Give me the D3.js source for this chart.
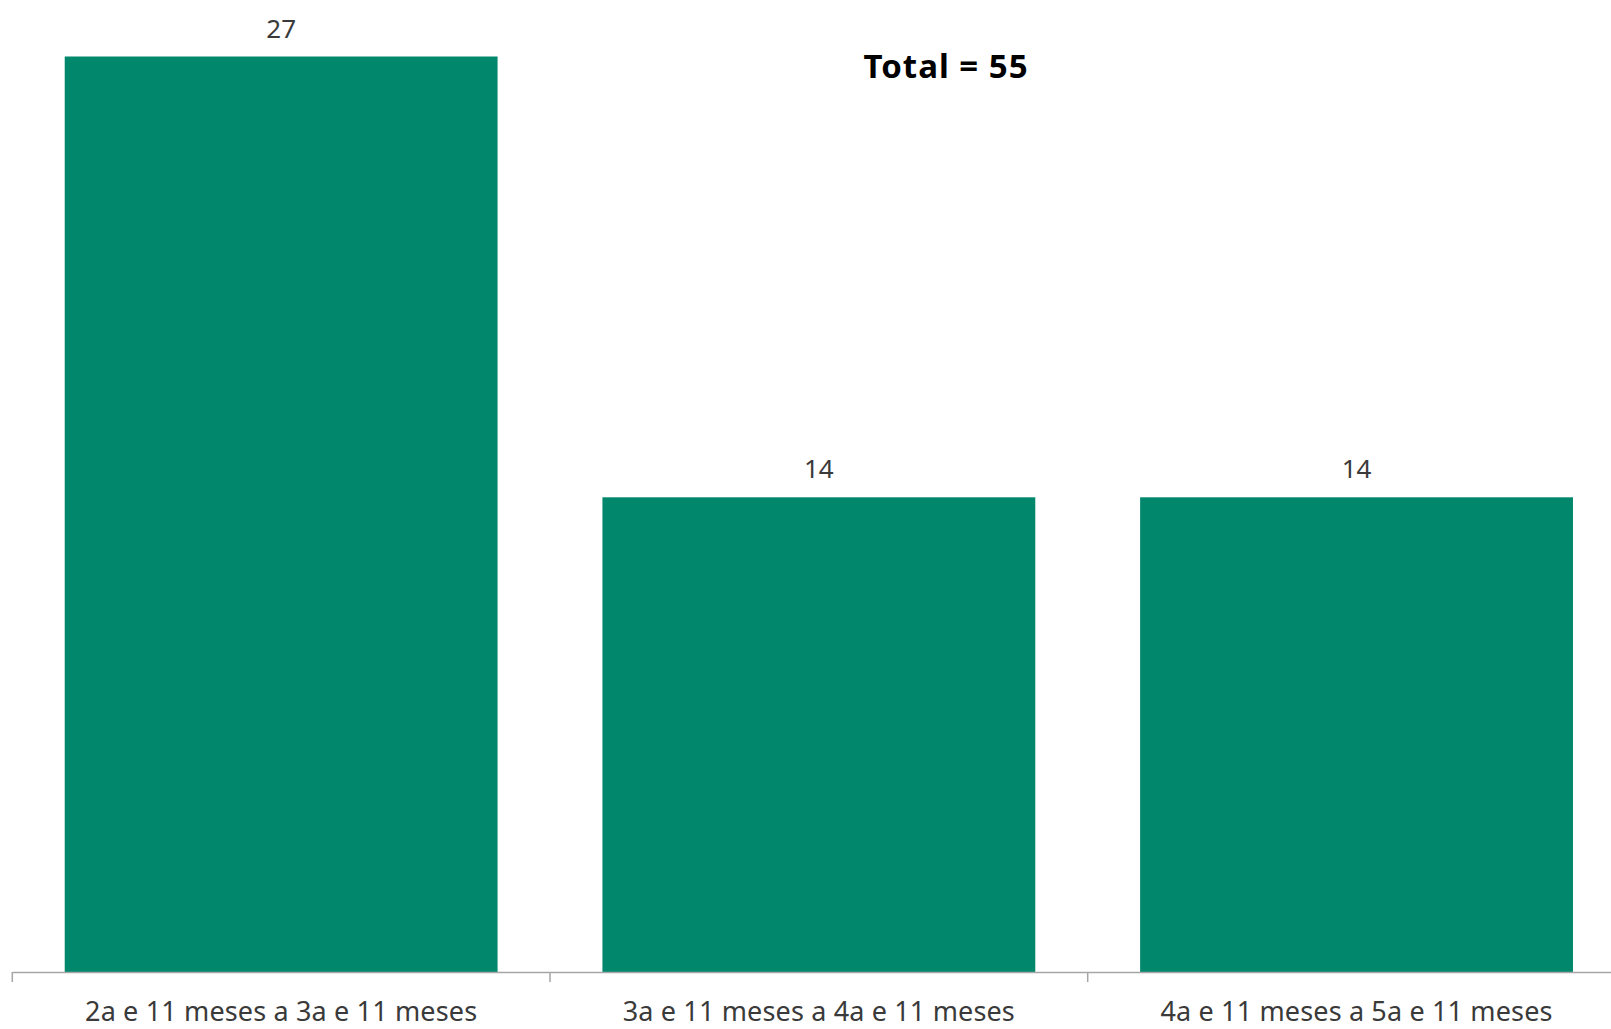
<!DOCTYPE html>
<html>
<head>
<meta charset="utf-8">
<script src="https://cdn.jsdelivr.net/npm/d3@7"></script>
<style>
  html, body { margin: 0; padding: 0; background: #fff; }
  svg { display: block; }
</style>
</head>
<body>
<div id="chart"></div>
<script>
const categories = ['2a e 11 meses a 3a e 11 meses', '3a e 11 meses a 4a e 11 meses', '4a e 11 meses a 5a e 11 meses']
const values = [27, 14, 14]
const totalLabel = 'Total = 55'

const width = 1611, height = 1029
const axisY = 972

const svg = d3.select('#chart').append('svg')
    .attr('width', width)
    .attr('height', height)

// one slot per category, the plot runs past the right edge
const slot = d3.scaleBand()
    .domain(categories)
    .range([12.3, 1625.4])

const y = d3.scaleLinear()
    .domain([0, 27])
    .range([axisY, 56.5])

const barOffset = slot.bandwidth() * 0.0975
const barWidth = slot.bandwidth() * 0.805

svg.append('g')
  .selectAll('rect')
  .data(values)
  .join('rect')
    .attr('x', (d, i) => slot(categories[i]) + barOffset)
    .attr('y', d => y(d))
    .attr('width', barWidth)
    .attr('height', d => axisY - y(d))
    .attr('fill', '#00876c')

// axis line + labels
const axis = d3.axisBottom(slot).tickSize(0).tickPadding(30)
const gx = svg.append('g')
    .attr('transform', `translate(0,${axisY})`)
    .call(axis)
gx.select('.domain').attr('stroke', '#a6a6a6').attr('stroke-width', 1.5)
gx.selectAll('.tick text')
    .attr('font-family', '"Noto Sans", sans-serif')
    .attr('font-size', 27)
    .attr('letter-spacing', 0.15)
    .attr('fill', '#3a3a3a')

// ticks between categories
svg.append('g')
  .selectAll('line')
  .data(categories)
  .join('line')
    .attr('x1', d => slot(d))
    .attr('x2', d => slot(d))
    .attr('y1', axisY)
    .attr('y2', axisY + 10)
    .attr('stroke', '#a6a6a6')
    .attr('stroke-width', 1.5)

// value labels
svg.append('g')
  .selectAll('text')
  .data(values)
  .join('text')
    .attr('x', (d, i) => slot(categories[i]) + slot.bandwidth() / 2)
    .attr('y', d => y(d) - 19)
    .attr('text-anchor', 'middle')
    .attr('font-family', '"Noto Sans", sans-serif')
    .attr('font-size', 26)
    .attr('fill', '#3a3a3a')
    .text(d => d)

svg.append('text')
    .attr('x', 946)
    .attr('y', 78)
    .attr('text-anchor', 'middle')
    .attr('font-family', '"Noto Sans", sans-serif')
    .attr('font-weight', 'bold')
    .attr('font-size', 33)
    .attr('letter-spacing', 1)
    .attr('fill', '#000')
    .text(totalLabel)
</script>
</body>
</html>
